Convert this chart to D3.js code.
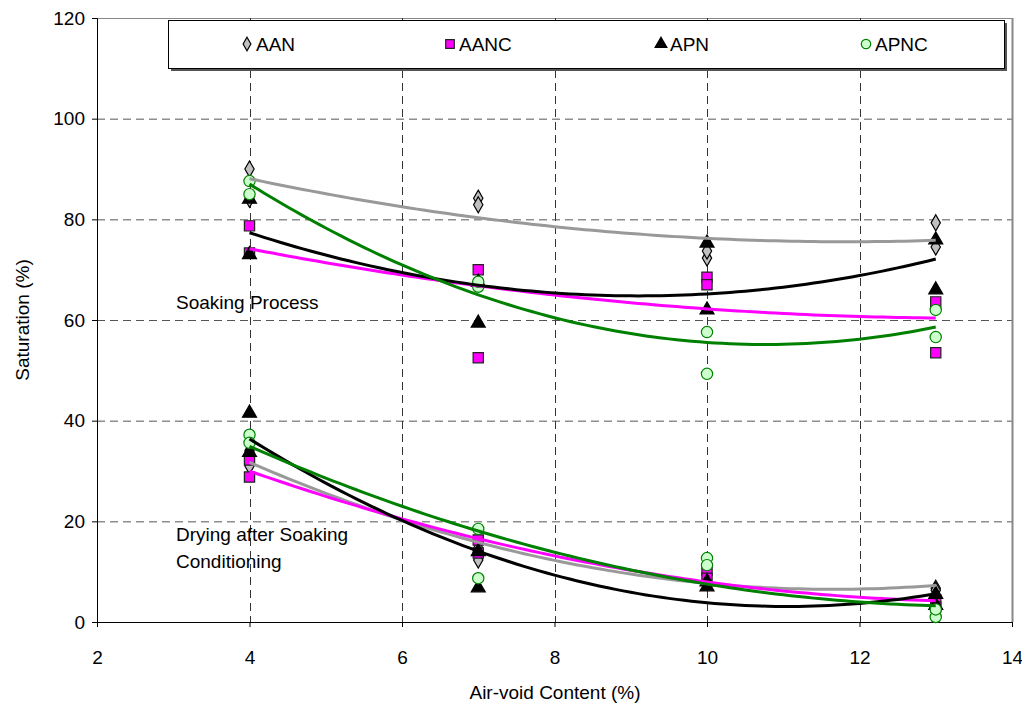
<!DOCTYPE html>
<html><head><meta charset="utf-8">
<script src="https://cdn.jsdelivr.net/npm/d3@7"></script>
<style>body{margin:0;background:#fff;} text{font-family:"Liberation Sans",Arial,sans-serif;}</style>
</head><body><svg id="c" width="1022" height="706"></svg>
<script>
const xTicks = [2,4,6,8,10,12,14];
const yTicks = [0,20,40,60,80,100,120];
const seriesNames = ["AAN","AANC","APN","APNC"];
const airVoid = [4,4,7,7,10,10,13,13];
// Soaking process saturation (%)
const soakAAN  = [90,84,84.2,82.9,72.3,73.7,79.3,74.5];
const soakAANC = [78.7,73.3,70,52.5,68.5,67,63.6,53.5];
const soakAPN  = [84,73,67.5,59.4,75.3,62,75.9,66];
const soakAPNC = [87.6,85,66.6,67.6,57.6,49.3,62,56.6];
// Drying after soaking conditioning saturation (%)
const dryAAN  = [34,31,12.3,14.7,10.5,9.5,6.7,6.3];
const dryAANC = [32.2,28.8,16.3,13.7,10.3,8.7,4.4,3];
const dryAPN  = [41.5,33.7,14,6.8,8,7,5.5,3.3];
const dryAPNC = [37.2,35.6,18.5,8.7,12.7,11.3,1,2.5];
const annotations = ["Soaking Process","Drying after Soaking","Conditioning"];

const styles = {
  AAN:{fill:"#c0c0c0",stroke:"#000",line:"#999999",shape:d3.symbolDiamond,size:75},
  AANC:{fill:"#ff00ff",stroke:"#222",line:"#ff00ff",shape:d3.symbolSquare,size:105},
  APN:{fill:"#000",stroke:"#000",line:"#000",shape:d3.symbolTriangle,size:85},
  APNC:{fill:"#ccffcc",stroke:"#008000",line:"#008000",shape:d3.symbolCircle,size:100}
};
const groups = [
  {name:"AAN",soak:soakAAN,dry:dryAAN},
  {name:"AANC",soak:soakAANC,dry:dryAANC},
  {name:"APN",soak:soakAPN,dry:dryAPN},
  {name:"APNC",soak:soakAPNC,dry:dryAPNC}
];

const L=97,R=1012,T=18,B=622;
const x=d3.scaleLinear().domain([2,14]).range([L,R]);
const y=d3.scaleLinear().domain([0,120]).range([B,T]);
const svg=d3.select("#c");

// gridlines
svg.append("g").selectAll("line").data(yTicks.filter(v=>v>0)).join("line")
  .attr("x1",L).attr("x2",R).attr("y1",d=>y(d)+0.5).attr("y2",d=>y(d)+0.5)
  .attr("stroke",d=>d===120?"#888":"#555").attr("stroke-dasharray",d=>d===120?null:"8,5");
svg.append("g").selectAll("line").data(xTicks.filter(v=>v>2&&v<14)).join("line")
  .attr("y1",T).attr("y2",B).attr("x1",d=>Math.round(x(d))+0.5).attr("x2",d=>Math.round(x(d))+0.5)
  .attr("stroke","#333").attr("stroke-dasharray","8,5");
svg.append("line").attr("x1",R+0.5).attr("x2",R+0.5).attr("y1",T).attr("y2",B).attr("stroke","#888").attr("stroke-width",2);

// axes
const xa=svg.append("g").attr("transform",`translate(0,${B})`)
  .call(d3.axisBottom(x).tickValues(xTicks).tickSize(5).tickPadding(24));
const ya=svg.append("g").attr("transform",`translate(${L},0)`)
  .call(d3.axisLeft(y).tickValues(yTicks).tickSize(5).tickPadding(7));
[xa,ya].forEach(a=>{a.select(".domain").attr("stroke","#000");a.selectAll("line").attr("stroke","#000");
  a.selectAll("text").attr("font-size",19).attr("fill","#000").attr("font-family","Liberation Sans, Arial");});

// quadratic fit
function quadFit(xs,ys){
  const n=xs.length;let s=[0,0,0,0,0],t=[0,0,0];
  for(let i=0;i<n;i++){const xv=xs[i],yv=ys[i];for(let k=0;k<5;k++)s[k]+=Math.pow(xv,k);for(let k=0;k<3;k++)t[k]+=yv*Math.pow(xv,k);}
  const M=[[s[0],s[1],s[2],t[0]],[s[1],s[2],s[3],t[1]],[s[2],s[3],s[4],t[2]]];
  for(let i=0;i<3;i++){let p=M[i][i];for(let j=i;j<4;j++)M[i][j]/=p;for(let r=0;r<3;r++)if(r!==i){const f=M[r][i];for(let j=i;j<4;j++)M[r][j]-=f*M[i][j];}}
  return xv=>M[0][3]+M[1][3]*xv+M[2][3]*xv*xv;
}

// markers
const mk=svg.append("g");
groups.forEach(g=>{
  const st=styles[g.name];
  const pts=airVoid.map((a,i)=>[a,g.soak[i]]).concat(airVoid.map((a,i)=>[a,g.dry[i]]));
  mk.selectAll(null).data(pts).join("path")
    .attr("d",d3.symbol().type(st.shape).size(st.size))
    .attr("transform",d=>`translate(${x(d[0])},${y(d[1])})`)
    .attr("fill",st.fill).attr("stroke",st.stroke).attr("stroke-width",1.2);
});
// trend lines
const line=d3.line().x(d=>x(d[0])).y(d=>y(d[1]));
const xs=d3.range(4,13.001,0.1);
groups.forEach(g=>{
  const st=styles[g.name];
  [g.soak,g.dry].forEach(vals=>{
    const f=quadFit(airVoid,vals);
    svg.append("path").datum(xs.map(v=>[v,f(v)])).attr("d",line)
      .attr("fill","none").attr("stroke",st.line).attr("stroke-width",3);
  });
});

// annotations
svg.append("text").attr("x",176).attr("y",309).attr("font-size",19).text(annotations[0]);
svg.append("text").attr("x",176).attr("y",541).attr("font-size",19).text(annotations[1]);
svg.append("text").attr("x",176).attr("y",568).attr("font-size",19).text(annotations[2]);

// legend
const lg=svg.append("g");
lg.append("rect").attr("x",171).attr("y",23).attr("width",836).attr("height",48).attr("fill","#555");
lg.append("rect").attr("x",168.5).attr("y",20.5).attr("width",836).attr("height",48).attr("fill","#fff").attr("stroke","#000");
const lx=[247,450,661,866];
seriesNames.forEach((n,i)=>{
  const st=styles[n];
  lg.append("path").attr("d",d3.symbol().type(st.shape).size(st.size*0.7))
    .attr("transform",`translate(${lx[i]},44)`).attr("fill",st.fill).attr("stroke",st.stroke).attr("stroke-width",1.2);
  lg.append("text").attr("x",lx[i]+9).attr("y",51).attr("font-size",19).text(n);
});

// axis titles
svg.append("text").attr("x",555).attr("y",699).attr("text-anchor","middle").attr("font-size",19).text("Air-void Content (%)");
svg.append("text").attr("transform","translate(29,320) rotate(-90)").attr("text-anchor","middle").attr("font-size",19).text("Saturation (%)");
</script></body></html>
